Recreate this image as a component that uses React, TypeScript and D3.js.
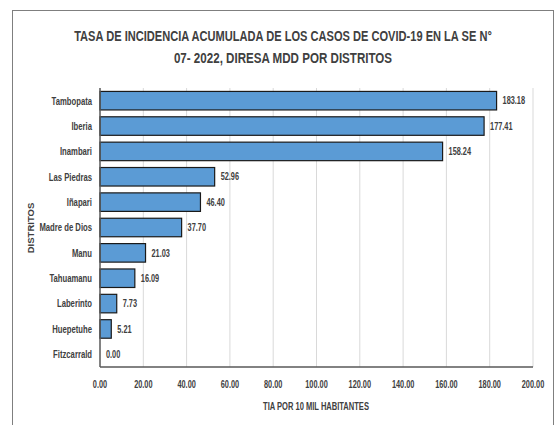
import React from "react";
import * as d3 from "d3";

const titleLines = [
  "TASA DE INCIDENCIA ACUMULADA DE LOS CASOS DE COVID-19 EN LA SE N°",
  "07- 2022, DIRESA MDD POR DISTRITOS",
];
const districts = [
  "Tambopata", "Iberia", "Inambari", "Las Piedras", "Iñapari", "Madre de Dios",
  "Manu", "Tahuamanu", "Laberinto", "Huepetuhe", "Fitzcarrald",
];
const values = [183.18, 177.41, 158.24, 52.96, 46.4, 37.7, 21.03, 16.09, 7.73, 5.21, 0.0];
const xTicks = [0, 20, 40, 60, 80, 100, 120, 140, 160, 180, 200];
const xTitle = "TIA POR 10 MIL HABITANTES";
const yTitle = "DISTRITOS";

const FONT = "'Liberation Sans', Arial, sans-serif";
const TXT = "#404040";

function NText({ x, y, anchor = "start", size = 10.5, sx = 0.72, children, dy }: any) {
  return (
    <text
      transform={`translate(${x},${y}) scale(${sx},1)`}
      textAnchor={anchor}
      dy={dy}
      fontFamily={FONT}
      fontWeight="bold"
      fontSize={size}
      fill={TXT}
    >
      {children}
    </text>
  );
}

export default function App() {
  const W = 558, H = 425;
  const left = 100, right = 533, top = 88, bottom = 367;
  const x = d3.scaleLinear().domain([0, 200]).range([left, right]);
  const y = d3.scaleBand().domain(districts).range([top, bottom]).paddingInner(0.27).paddingOuter(0.135);
  const titleScale = [0.715, 0.748];
  return (
    <svg width={W} height={H} style={{ position: "absolute", left: 0, top: 0, background: "#fff" }}>
      <rect x={12.5} y={10.5} width={541} height={420} fill="#fff" stroke="#7f7f7f" strokeWidth={1} />
      {titleLines.map((t, i) => (
        <NText key={i} x={283} y={41 + i * 22} anchor="middle" size={15.5} sx={titleScale[i]}>{t}</NText>
      ))}
      {xTicks.map((t) => (
        <g key={t}>
          {t > 0 && <line x1={x(t)} x2={x(t)} y1={top} y2={bottom} stroke="#d9d9d9" strokeWidth={1} />}
          <NText x={x(t)} y={388} anchor="middle" sx={0.7}>{t.toFixed(2)}</NText>
        </g>
      ))}
      {districts.map((d, i) => (
        <g key={d}>
          {values[i] > 0 && (
            <rect x={x(0)} y={y(d)} width={x(values[i]) - x(0)} height={y.bandwidth()} fill="#5B9BD5" stroke="#1a1a1a" strokeWidth={1.2} />
          )}
          <NText x={left - 8} y={(y(d) as number) + y.bandwidth() / 2} dy="0.35em" anchor="end" size={11} sx={0.7}>{d}</NText>
          <NText x={x(values[i]) + 6} y={(y(d) as number) + y.bandwidth() / 2} dy="0.35em" sx={0.7}>{values[i].toFixed(2)}</NText>
        </g>
      ))}
      <line x1={left} x2={left} y1={top} y2={bottom} stroke="#595959" strokeWidth={1.5} />
      <line x1={left} x2={right} y1={bottom} y2={bottom} stroke="#595959" strokeWidth={1.5} />
      <NText x={316} y={410} anchor="middle" sx={0.72}>{xTitle}</NText>
      <text transform={`translate(34, 228) rotate(-90)`} textAnchor="middle" fontFamily={FONT} fontWeight="bold" fontSize={9.5} fill={TXT}>{yTitle}</text>
    </svg>
  );
}
